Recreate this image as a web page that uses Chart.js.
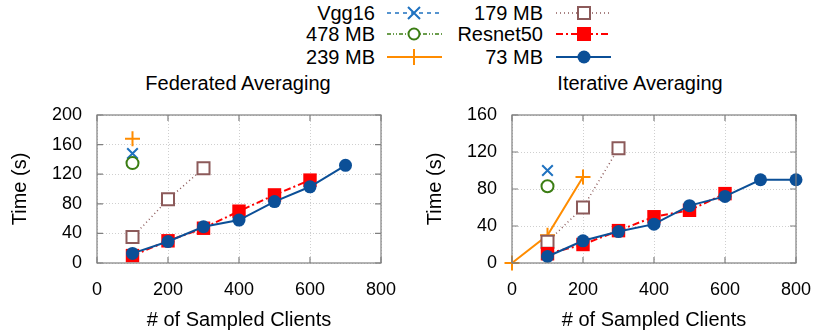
<!DOCTYPE html>
<html lang="en">
<head>
    <meta charset="UTF-8">
    <title>Federated vs Iterative Averaging</title>
    <script src="https://cdn.jsdelivr.net/npm/chart.js"></script>
    <style>
        body { margin: 0; width: 830px; height: 332px; position: relative; background: #fff; font-family: "Liberation Sans", Arial, sans-serif; overflow: hidden; }
        .panel { position: absolute; top: 100px; width: 415px; height: 232px; }
        .ttl { position: absolute; top: 71px; font-size: 20px; line-height: 24px; color: #000; text-align: center; width: 300px; }
        #legend { position: absolute; left: 0; top: 0; }
    </style>
</head>
<body>
    <svg id="legend" width="830" height="70" font-family="Liberation Sans, Arial, sans-serif" font-size="20">
        <text x="375" y="20" text-anchor="end">Vgg16</text>
        <line x1="387" y1="13" x2="442" y2="13" stroke="#1f72c0" stroke-width="1.5" stroke-dasharray="4,4"/>
        <path d="M408 7 L420 19 M420 7 L408 19" stroke="#1f72c0" stroke-width="2"/>

        <text x="375" y="41" text-anchor="end">478 MB</text>
        <line x1="387" y1="34" x2="442" y2="34" stroke="#3b7d13" stroke-width="1.5" stroke-dasharray="4,2,1,2,1,2"/>
        <circle cx="414" cy="34" r="5.5" fill="#fff" stroke="#3b7d13" stroke-width="2"/>

        <text x="375" y="64" text-anchor="end">239 MB</text>
        <line x1="387" y1="57" x2="442" y2="57" stroke="#ff8c00" stroke-width="2"/>
        <path d="M414 49 L414 65" stroke="#ff8c00" stroke-width="2"/>

        <text x="543" y="20" text-anchor="end">179 MB</text>
        <line x1="556" y1="13" x2="611" y2="13" stroke="#8c5a5a" stroke-width="1.5" stroke-dasharray="1,3"/>
        <rect x="578" y="7" width="12" height="12" fill="#fff" stroke="#8c5a5a" stroke-width="2"/>

        <text x="543" y="41" text-anchor="end">Resnet50</text>
        <line x1="556" y1="34" x2="611" y2="34" stroke="#ff0000" stroke-width="2" stroke-dasharray="7,3,2,3"/>
        <rect x="577" y="27" width="14" height="14" fill="#ff0000"/>

        <text x="543" y="64" text-anchor="end">73 MB</text>
        <line x1="556" y1="57" x2="611" y2="57" stroke="#0b4f97" stroke-width="2"/>
        <circle cx="584" cy="57" r="6.5" fill="#0b4f97"/>
    </svg>

    <div class="ttl" style="left:88px">Federated Averaging</div>
    <div class="ttl" style="left:490px">Iterative Averaging</div>

    <div class="panel" style="left:0"><canvas id="fedChart"></canvas></div>
    <div class="panel" style="left:415px"><canvas id="iterChart"></canvas></div>

    <script>
        // x positions shared by every series (null = no point)
        const clients = [0, 100, 200, 300, 400, 500, 600, 700, 800];

        // Federated Averaging
        const fedVgg16    = [null, 148, null, null, null, null, null, null, null];
        const fed478      = [null, 135, null, null, null, null, null, null, null];
        const fed239      = [null, 168, null, null, null, null, null, null, null];
        const fed179      = [null, 35, 86, 128, null, null, null, null, null];
        const fedResnet50 = [null, 10, 30, 47, 70, 92, 112, null, null];
        const fed73       = [null, 13, 29, 49, 58, 83, 103, 132, null];

        // Iterative Averaging
        const iterVgg16    = [null, 100, null, null, null, null, null, null, null];
        const iter478      = [null, 83, null, null, null, null, null, null, null];
        const iter239      = [0, 30, 93, null, null, null, null, null, null];
        const iter179      = [null, 23, 60, 124, null, null, null, null, null];
        const iterResnet50 = [null, 10, 20, 35, 50, 57, 75, null, null];
        const iter73       = [null, 7, 24, 34, 42, 62, 72, 90, 90];

        const xTicks = [0, 200, 400, 600, 800];

        const TICK_FONT = { family: '"Liberation Sans", Arial, sans-serif', size: 18 };
        const TITLE_FONT = { family: '"Liberation Sans", Arial, sans-serif', size: 20 };

        function pts(ys) {
            const out = [];
            ys.forEach((y, i) => { if (y !== null) out.push({ x: clients[i], y: y }); });
            return out;
        }

        function makeSets(vgg, m478, m239, m179, resnet, m73) {
            return [
                { label: '73 MB', data: pts(m73), order: 0, borderColor: '#0b4f97', backgroundColor: '#0b4f97',
                  borderWidth: 2, pointStyle: 'circle', pointRadius: 6.5, pointBorderWidth: 0 },
                { label: 'Resnet50', data: pts(resnet), order: 1, borderColor: '#ff0000', backgroundColor: '#ff0000',
                  borderWidth: 2, borderDash: [7, 3, 2, 3], pointStyle: 'rect', pointRadius: 9.5, pointBorderWidth: 0 },
                { label: '179 MB', data: pts(m179), order: 2, borderColor: '#8c5a5a', backgroundColor: '#fff',
                  borderWidth: 1.5, borderDash: [1, 3], pointStyle: 'rect', pointRadius: 8.5, pointBorderWidth: 2 },
                { label: '239 MB', data: pts(m239), order: 3, borderColor: '#ff8c00', backgroundColor: '#ff8c00',
                  borderWidth: 2, pointStyle: 'cross', pointRadius: 7.5, pointBorderWidth: 2 },
                { label: '478 MB', data: pts(m478), order: 4, borderColor: '#3b7d13', backgroundColor: '#fff',
                  borderWidth: 1.5, pointStyle: 'circle', pointRadius: 6, pointBorderWidth: 2 },
                { label: 'Vgg16', data: pts(vgg), order: 5, borderColor: '#1f72c0', backgroundColor: '#1f72c0',
                  borderWidth: 1.5, borderDash: [4, 4], pointStyle: 'crossRot', pointRadius: 7.5, pointBorderWidth: 2 }
            ];
        }

        // gnuplot-like box with inward ticks
        const frame = {
            id: 'frame',
            afterDraw(chart) {
                const { ctx, chartArea: a, scales } = chart;
                ctx.save();
                ctx.strokeStyle = '#808080';
                ctx.lineWidth = 1.2;
                ctx.strokeRect(a.left, a.top, a.right - a.left, a.bottom - a.top);
                const t = 6;
                ctx.beginPath();
                scales.y.ticks.forEach(tk => {
                    const y = scales.y.getPixelForValue(tk.value);
                    ctx.moveTo(a.left, y); ctx.lineTo(a.left + t, y);
                    ctx.moveTo(a.right, y); ctx.lineTo(a.right - t, y);
                });
                scales.x.ticks.forEach(tk => {
                    const x = scales.x.getPixelForValue(tk.value);
                    ctx.moveTo(x, a.bottom); ctx.lineTo(x, a.bottom - t);
                    ctx.moveTo(x, a.top); ctx.lineTo(x, a.top + t);
                });
                ctx.stroke();
                ctx.restore();
            }
        };

        function makeChart(id, sets, yMax) {
            return new Chart(document.getElementById(id), {
                type: 'line',
                data: { datasets: sets },
                options: {
                    responsive: true,
                    maintainAspectRatio: false,
                    animation: false,
                    clip: false,
                    layout: { padding: { top: 15, right: 34, left: 0, bottom: 0 } },
                    plugins: { legend: { display: false }, tooltip: { enabled: false } },
                    scales: {
                        x: {
                            type: 'linear', min: 0, max: 800,
                            afterBuildTicks: s => { s.ticks = xTicks.map(v => ({ value: v })); },
                            afterFit: s => { s.height = 69; },
                            ticks: { font: TICK_FONT, color: '#000', padding: 16, maxRotation: 0 },
                            grid: { color: '#cfcfcf', drawTicks: false },
                            border: { display: false, dash: [1, 2] },
                            title: { display: true, text: '# of Sampled Clients', font: TITLE_FONT, color: '#000', padding: { top: 0, bottom: 0 } }
                        },
                        y: {
                            min: 0, max: yMax,
                            afterFit: s => { s.width = 97; },
                            // small tick padding keeps the top label from pushing the plot down;
                            // an invisible tick mark supplies the rest of the gap
                            ticks: { font: TICK_FONT, color: '#000', padding: 4, stepSize: 40 },
                            grid: { color: '#cfcfcf', drawTicks: true, tickLength: 11, tickColor: 'rgba(0,0,0,0)' },
                            border: { display: false, dash: [1, 2] },
                            title: { display: true, text: 'Time (s)', font: TITLE_FONT, color: '#000', padding: { top: 8, bottom: 0 } }
                        }
                    }
                },
                plugins: [frame]
            });
        }

        makeChart('fedChart', makeSets(fedVgg16, fed478, fed239, fed179, fedResnet50, fed73), 200);
        makeChart('iterChart', makeSets(iterVgg16, iter478, iter239, iter179, iterResnet50, iter73), 160);
    </script>
</body>
</html>
